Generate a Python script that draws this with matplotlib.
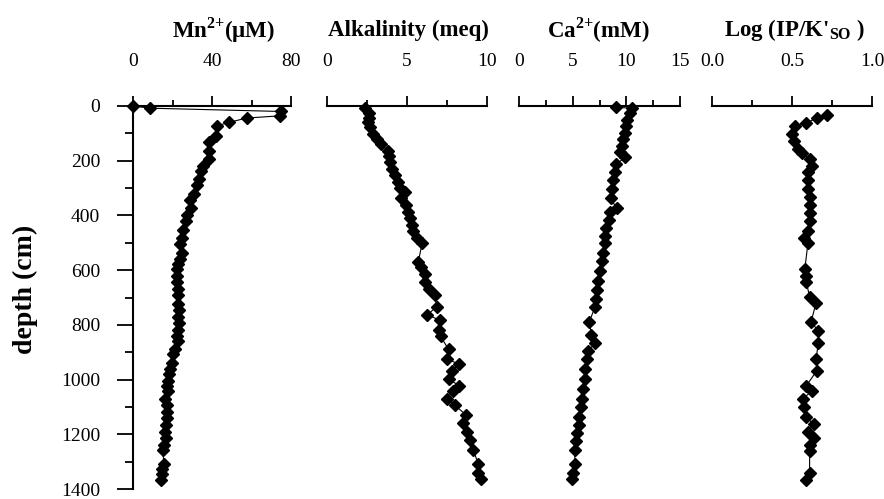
#!/usr/bin/env python3
#
# pore water profiles vs depth (Mn, alkalinity, Ca, saturation index)
#

import numpy as np
import matplotlib.pyplot as plt
from matplotlib.ticker import MultipleLocator

plt.rcParams['font.family'] = ['Liberation Serif', 'DejaVu Serif']
plt.rcParams['mathtext.fontset'] = 'custom'
plt.rcParams['mathtext.rm'] = 'Liberation Serif:bold'
plt.rcParams['mathtext.bf'] = 'Liberation Serif:bold'

# depth in cm
mn_depth = [0, 8, 20, 36, 44, 60, 72, 108, 130, 164, 194, 218, 236, 266, 290, 320, 344, 372, 398, 422,
            452, 482, 506, 536, 560, 578, 596, 620, 644, 668, 692, 722, 746, 770, 794, 818, 842, 860, 890, 908,
            938, 962, 980, 1004, 1022, 1040, 1070, 1094, 1118, 1142, 1166, 1190, 1214, 1238, 1256, 1310, 1328, 1346, 1368]
mn = [0, 8.6, 75, 74.4, 57.5, 48.6, 42.7, 42, 38.5, 38.3, 38.3, 35.6, 34.3, 33.4, 32.2, 30.9, 28.9, 29.4, 27.5, 26.8,
      25.5, 24.6, 23.8, 24.6, 23.8, 23.0, 22.5, 22.1, 22.5, 22.6, 23.0, 23.0, 23.3, 23.0, 23.3, 23.0, 22.5, 23.0, 21.3, 20.4,
      19.6, 18.7, 18.2, 17.9, 17.1, 17.9, 16.2, 17.1, 17.1, 17.1, 16.6, 16.2, 16.6, 15.7, 15.0, 15.7, 14.8, 14.5, 14.0]

alk_depth = [8, 26, 44, 60, 78, 104, 122, 140, 164, 182, 206, 230, 254, 278, 300, 314, 338, 362, 386, 410,
             434, 458, 482, 500, 572, 590, 614, 644, 668, 692, 734, 764, 782, 818, 842, 890, 924, 944, 968, 998,
             1022, 1040, 1070, 1094, 1130, 1160, 1190, 1220, 1256, 1310, 1340, 1364]
alk = [2.4, 2.6, 2.65, 2.55, 2.7, 2.9, 3.15, 3.4, 3.8, 3.9, 3.95, 4.05, 4.25, 4.45, 4.55, 4.9, 4.65, 4.95, 5.05, 5.2,
       5.3, 5.4, 5.6, 5.95, 5.7, 5.9, 6.1, 6.1, 6.4, 6.75, 6.85, 6.25, 7.05, 7.0, 7.1, 7.6, 7.5, 8.25, 7.8, 7.6,
       8.25, 7.9, 7.5, 8.0, 8.7, 8.5, 8.75, 8.95, 9.15, 9.45, 9.45, 9.6]

ca_depth = [5, 8, 26, 50, 74, 98, 122, 146, 168, 188, 212, 242, 272, 302, 338, 374, 386, 416, 446, 476,
            500, 536, 566, 602, 638, 674, 704, 734, 788, 836, 866, 896, 926, 962, 998, 1034, 1070, 1100, 1136, 1166,
            1196, 1226, 1256, 1310, 1340, 1364]
ca = [9.0, 10.5, 10.35, 10.1, 9.95, 9.9, 9.65, 9.55, 9.4, 9.9, 9.05, 8.95, 8.8, 8.7, 8.55, 9.1, 8.5, 8.35, 8.15, 8.0,
      8.0, 7.85, 7.7, 7.55, 7.4, 7.3, 7.2, 7.1, 6.55, 6.75, 7.1, 6.45, 6.3, 6.15, 6.15, 6.0, 5.85, 5.75, 5.6, 5.55,
      5.45, 5.3, 5.2, 5.2, 5.0, 4.9]

log_depth = [32, 44, 62, 74, 104, 128, 158, 173, 194, 218, 242, 272, 302, 332, 362, 392, 422, 458, 482, 500,
             596, 620, 644, 698, 720, 788, 824, 866, 926, 968, 1022, 1040, 1070, 1100, 1136, 1164, 1190, 1214, 1238, 1262,
             1340, 1368]
logsat = [0.72, 0.655, 0.59, 0.52, 0.50, 0.51, 0.54, 0.565, 0.61, 0.625, 0.60, 0.60, 0.60, 0.61, 0.61, 0.61, 0.61, 0.60, 0.575, 0.60,
          0.58, 0.59, 0.59, 0.61, 0.65, 0.62, 0.665, 0.665, 0.65, 0.655, 0.59, 0.625, 0.57, 0.575, 0.59, 0.635, 0.60, 0.635, 0.61, 0.61,
          0.61, 0.59]

titles = [r'Mn$^{\mathbf{2{+}}}$(μM)', 'Alkalinity (meq)', r'Ca$^{\mathbf{2{+}}}$(mM)', r"Log (IP/K'$_{\mathbf{SO}}$ )"]
title_x = [223, 408, 598, 795]  # pixel centres of the panel titles

panels = [
    (mn_depth, mn, (0, 80), 40, 20, '{:.0f}'),
    (alk_depth, alk, (0, 10), 5, 2.5, '{:.0f}'),
    (ca_depth, ca, (0, 15), 5, 2.5, '{:.0f}'),
    (log_depth, logsat, (0, 1), 0.5, 0.25, '{:.1f}'),
]
left_px = [133, 327, 519, 712]
right_px = [291, 487, 680, 872]

W, H = 884, 499
fig = plt.figure(figsize=(W / 100, H / 100), dpi=100)
top_px, bot_px = 106, 489

for k, (d, v, xlim, major, minor, fmt) in enumerate(panels):
    ax = fig.add_axes([left_px[k] / W, 1 - bot_px / H, (right_px[k] - left_px[k]) / W, (bot_px - top_px) / H])
    ax.plot(v, d, '-', color='black', lw=0.8, marker='D', ms=6.3, mfc='black', mec='black', clip_on=False, zorder=3)
    ax.set_xlim(*xlim)
    ax.set_ylim(1400, 0)

    ax.xaxis.tick_top()
    ax.xaxis.set_major_locator(MultipleLocator(major))
    ax.xaxis.set_minor_locator(MultipleLocator(minor))
    ax.xaxis.set_major_formatter(plt.FuncFormatter(lambda x, p, f=fmt: f.format(x)))
    ax.tick_params(axis='x', which='major', direction='out', length=7, width=1.3, labelsize=14, pad=19)
    ax.tick_params(axis='x', which='minor', direction='out', length=4, width=1.3)

    for s in ['right', 'bottom']:
        ax.spines[s].set_visible(False)
    ax.spines['top'].set_linewidth(1.5)

    if k == 0:
        ax.yaxis.set_major_locator(MultipleLocator(200))
        ax.yaxis.set_minor_locator(MultipleLocator(100))
        ax.tick_params(axis='y', which='major', direction='out', length=11.5, width=1.3, labelsize=14, pad=12)
        ax.tick_params(axis='y', which='minor', direction='out', length=6, width=1.3)
        ax.spines['left'].set_linewidth(1.5)
        ax.set_ylabel('depth (cm)', fontsize=20, fontweight='bold')
        ax.yaxis.set_label_coords(-0.60, 0.52)
    else:
        ax.spines['left'].set_visible(False)
        ax.tick_params(axis='y', which='both', left=False, labelleft=False)

    fig.text(title_x[k] / W, 1 - 30 / H, titles[k], ha='center', va='center', fontsize=16.5, fontweight='bold')

fig.savefig('out.png', dpi=100)
